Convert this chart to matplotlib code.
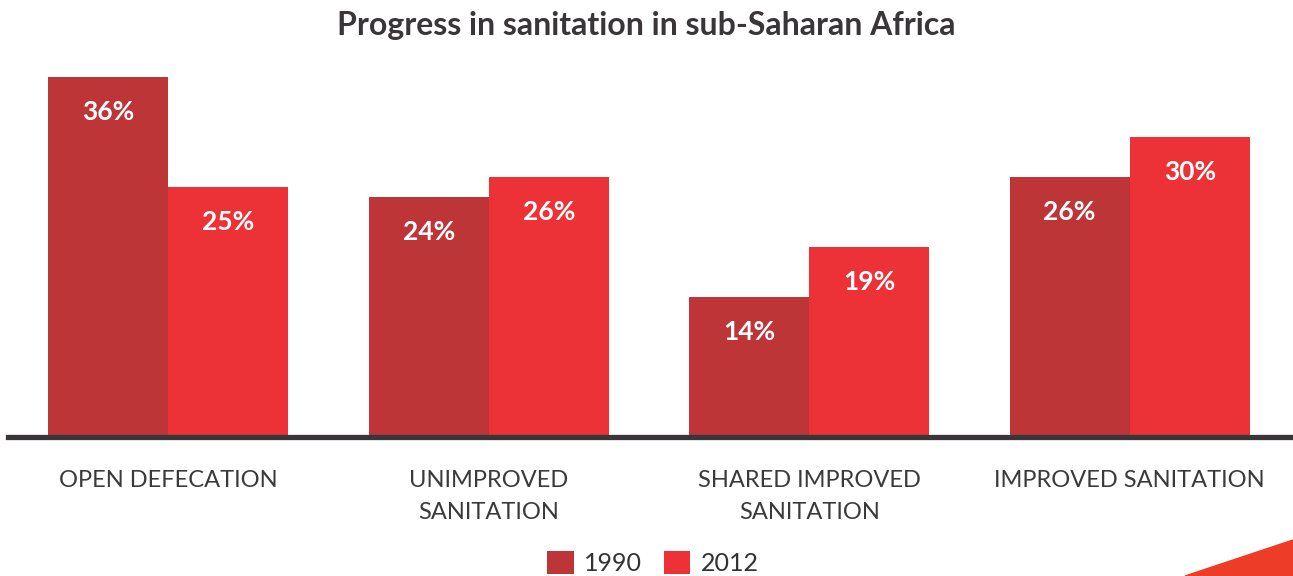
import numpy as np
import matplotlib.pyplot as plt
from matplotlib.patches import Polygon

categories = ["OPEN DEFECATION", "UNIMPROVED\nSANITATION",
              "SHARED IMPROVED\nSANITATION", "IMPROVED SANITATION"]
years = ["1990", "2012"]
vals_1990 = [36, 24, 14, 26]
vals_2012 = [25, 26, 19, 30]

c1990 = "#be3538"
c2012 = "#ec3237"
dark = "#3a3538"

plt.rcParams['font.family'] = ['Lato', 'DejaVu Sans']

fig = plt.figure(figsize=(12.93, 5.76), dpi=100)
ax = fig.add_axes([8/1293, 139/576, 1282/1293, 400/576])

x = np.arange(len(categories))
w = 0.375
b1 = ax.bar(x - w/2, vals_1990, w, color=c1990, label=years[0], zorder=2)
b2 = ax.bar(x + w/2, vals_2012, w, color=c2012, label=years[1], zorder=2)

for bars, vals in ((b1, vals_1990), (b2, vals_2012)):
    for r, v in zip(bars, vals):
        ax.text(r.get_x() + r.get_width()/2, v - 3.5, f"{v}%", ha="center",
                va="center", color="white", fontsize=19, fontweight="bold")

ax.axhline(0, color=dark, lw=3.8, zorder=3, clip_on=False)
ax.set_xlim(-0.5, 3.5)
ax.set_ylim(0, 40)
ax.set_xticks(x)
ax.set_xticklabels(categories, fontsize=17, fontweight="normal",
                   color="#3a3a3a", linespacing=1.6)
ax.tick_params(axis="x", length=0, pad=24)
ax.set_yticks([])
for s in ax.spines.values():
    s.set_visible(False)

fig.text(0.5, 1 - 25/576, "Progress in sanitation in sub-Saharan Africa",
         ha="center", va="center", fontsize=23, fontweight="bold", color="#3a3538")

fig.legend(handles=[b1, b2], labels=years, loc="center", ncol=2,
           bbox_to_anchor=(653/1293, 1 - 563/576), frameon=False, fontsize=18,
           handlelength=1.05, handleheight=1.05, handletextpad=0.4,
           columnspacing=0.9, labelcolor="#333333")

fig.patches.append(Polygon([[1185/1293, 0], [1, 36/576], [1, 0]], closed=True,
                           transform=fig.transFigure, color="#ee3d26"))

fig.savefig("out.png", dpi=100)
